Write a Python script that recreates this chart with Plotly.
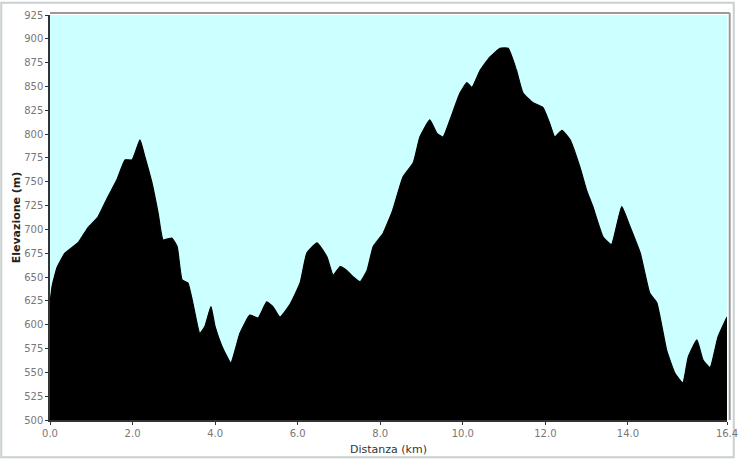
import plotly.graph_objects as go

distance_km = [0.0, 0.05, 0.17, 0.36, 0.68, 0.92, 1.16, 1.4, 1.62, 1.82, 1.99, 2.18, 2.3, 2.47, 2.62,
               2.74, 2.95, 3.08, 3.2, 3.34, 3.46, 3.63, 3.75, 3.9, 4.0, 4.17, 4.38, 4.6, 4.84,
               5.04, 5.25, 5.4, 5.57, 5.81, 6.06, 6.22, 6.47, 6.71, 6.86, 7.03, 7.19, 7.35,
               7.51, 7.68, 7.83, 8.07, 8.3, 8.55, 8.8, 8.96, 9.2, 9.37, 9.52, 9.69, 9.93, 10.1,
               10.22, 10.42, 10.66, 10.9, 11.1, 11.3, 11.46, 11.7, 11.94, 12.1, 12.23, 12.4,
               12.6, 12.84, 13.0, 13.15, 13.4, 13.6, 13.85, 14.05, 14.3, 14.53, 14.7, 14.94,
               15.14, 15.33, 15.46, 15.67, 15.82, 15.99, 16.18, 16.4]
elevation_m = [622, 640, 660, 675, 686, 702, 713, 734, 752, 773, 773, 794, 776, 749, 717,
               689, 691, 682, 647, 644, 623, 591, 598, 619, 598, 577, 560, 591, 610,
               607, 624, 619, 608, 621, 644, 675, 686, 671, 652, 661, 657, 650,
               645, 657, 682, 696, 720, 755, 770, 797, 815, 801, 797, 815, 843, 854,
               849, 867, 881, 890, 890, 867, 843, 833, 828, 812, 797, 804,
               794, 765, 741, 724, 692, 684, 724, 703, 675, 633, 623, 573,
               549, 539, 566, 584, 563, 555, 587, 608]

x_tick_vals = [0, 2, 4, 6, 8, 10, 12, 14, 16.4]
x_tick_text = ["0.0", "2.0", "4.0", "6.0", "8.0", "10.0", "12.0", "14.0", "16.4"]
y_tick_vals = list(range(500, 926, 25))

fig = go.Figure()
fig.add_trace(go.Scatter(
    x=distance_km, y=elevation_m, mode="lines",
    line=dict(color="black", width=1.2, shape="spline", smoothing=0.4),
    fill="tozeroy", fillcolor="black", hoverinfo="x+y",
))

fig.update_layout(
    width=741, height=459,
    margin=dict(l=50, r=14, t=15, b=39),
    paper_bgcolor="white",
    plot_bgcolor="#ccffff",
    showlegend=False,
    font=dict(family="DejaVu Sans", size=10, color="#666666"),
    xaxis=dict(
        range=[0, 16.4], tickvals=x_tick_vals, ticktext=x_tick_text,
        showgrid=False, zeroline=False, automargin=False,
        showline=True, linecolor="#333333", linewidth=1.5, mirror=False,
        ticks="outside", ticklen=3, tickcolor="#333333",
        tickfont=dict(size=10, color="#777777"),
        title=dict(text="Distanza (km)", font=dict(size=11, color="#333333"), standoff=8),
    ),
    yaxis=dict(
        range=[500, 925], tickvals=y_tick_vals,
        showgrid=False, zeroline=False, automargin=False,
        showline=True, linecolor="#333333", linewidth=1.5,
        ticks="outside", ticklen=3, tickcolor="#333333",
        tickfont=dict(size=10, color="#777777"),
        title=dict(text="<b>Elevazione (m)</b>", font=dict(size=11, color="#222222"), standoff=1),
    ),
    shapes=[
        dict(type="line", xref="paper", yref="paper", x0=0, x1=1.004, y0=1.005, y1=1.005,
             line=dict(color="#999999", width=2)),
        dict(type="line", xref="paper", yref="paper", x0=1.004, x1=1.004, y0=0, y1=1.005,
             line=dict(color="#999999", width=2)),
        dict(type="rect", xref="paper", yref="paper", x0=-0.072, x1=1.01, y0=-0.092, y1=1.03,
             line=dict(color="#c8d0d0", width=2), layer="below"),
    ],
)

fig.write_html(
    "out.html",
    config={"displayModeBar": False},
    post_script="document.body.style.margin='0px';document.body.style.overflow='hidden';",
)
